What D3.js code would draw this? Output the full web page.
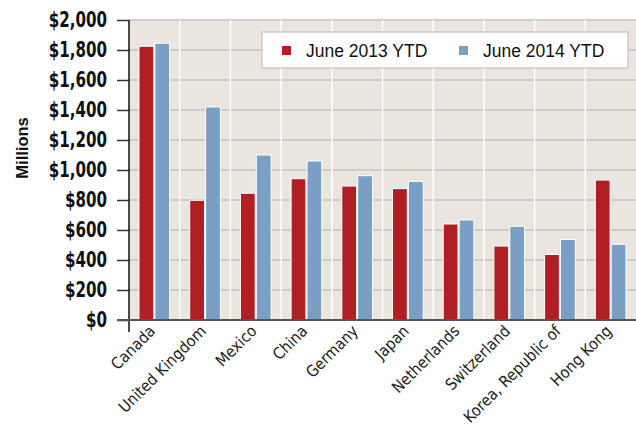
<!DOCTYPE html>
<html><head><meta charset="utf-8">
<script src="https://cdn.jsdelivr.net/npm/d3@7"></script>
<style>body{margin:0;background:#fff}svg{display:block}</style>
</head><body>
<script>
const categories = ["Canada","United Kingdom","Mexico","China","Germany","Japan","Netherlands","Switzerland","Korea, Republic of","Hong Kong"];
const seriesNames = ["June 2013 YTD","June 2014 YTD"];
const values2013 = [1825, 798, 845, 942, 893, 876, 640, 493, 437, 933];
const values2014 = [1845, 1420, 1100, 1060, 962, 924, 667, 625, 537, 505];
const yTicks = [0,200,400,600,800,1000,1200,1400,1600,1800,2000];
const colors = ["#b01f24","#7a9fc4"];

const W=636,H=426;
const m={left:129,right:0,top:20,bottom:106};
const svg=d3.select("body").append("svg").attr("width",W).attr("height",H);
const iw=W-m.left-m.right, ih=H-m.top-m.bottom;
const g=svg.append("g").attr("transform",`translate(${m.left},${m.top})`);

const x0=d3.scaleBand().domain(categories).range([0,iw]).padding(0);
const x1=d3.scaleBand().domain(seriesNames).range([10,x0.bandwidth()-10]).paddingInner(0.07);
const y=d3.scaleLinear().domain([0,2000]).range([ih,0]);

g.append("rect").attr("width",iw).attr("height",ih).attr("fill","#ebe5df");
g.selectAll(".hg").data(yTicks.filter(d=>d>0)).join("line")
 .attr("x1",0).attr("x2",iw).attr("y1",d=>y(d)).attr("y2",d=>y(d))
 .attr("stroke","#c4c2c0").attr("stroke-width",1.5);
g.selectAll(".vg").data(categories.slice(1)).join("line")
 .attr("x1",d=>x0(d)).attr("x2",d=>x0(d)).attr("y1",0).attr("y2",ih)
 .attr("stroke","#fff").attr("stroke-width",1.5);

const data=categories.map((c,i)=>({c,v:[values2013[i],values2014[i]]}));
const grp=g.selectAll(".grp").data(data).join("g").attr("transform",d=>`translate(${x0(d.c)},0)`);
grp.selectAll("rect").data(d=>d.v.map((v,j)=>({s:seriesNames[j],v,j}))).join("rect")
 .attr("x",d=>x1(d.s)).attr("width",x1.bandwidth())
 .attr("y",d=>y(d.v)).attr("height",d=>ih-y(d.v))
 .attr("fill",d=>colors[d.j]).attr("stroke","#fff").attr("stroke-width",1);

// y axis
const sx=0.82;
const ya=g.append("g").call(d3.axisLeft(y).tickValues(yTicks).tickSize(12).tickPadding(10).tickFormat(d=>"$"+d3.format(",")(d)));
ya.select(".domain").remove();
ya.selectAll(".tick line").attr("stroke","#333").attr("stroke-width",1.5);
ya.selectAll("text").attr("font-family","'Liberation Sans Narrow','DejaVu Sans Condensed',sans-serif")
 .attr("font-weight","bold").attr("font-size",20.5).attr("fill","#111")
 .attr("x",-22/sx).attr("transform",`scale(${sx},1)`);
g.append("line").attr("x1",0).attr("x2",0).attr("y1",0).attr("y2",ih+12).attr("stroke","#111").attr("stroke-width",1.5);
g.append("line").attr("x1",-12).attr("x2",iw).attr("y1",ih).attr("y2",ih).attr("stroke","#555").attr("stroke-width",2);

// x labels
g.selectAll(".xl").data(categories).join("text")
 .attr("transform",d=>`translate(${x0(d)+x0.bandwidth()/2+2},${ih+12}) rotate(-45)`)
 .attr("text-anchor","end").attr("font-family","'Liberation Sans Narrow','DejaVu Sans Condensed',sans-serif")
 .attr("font-size",16).attr("fill","#222").text(d=>d);

svg.append("text").attr("transform",`translate(28,148) rotate(-90)`)
 .attr("text-anchor","middle").attr("font-family","'Liberation Sans',Arial,sans-serif")
 .attr("font-weight","bold").attr("font-size",16.5).attr("fill","#111").text("Millions");

// legend
const lg=svg.append("g").attr("transform","translate(262,32)");
lg.append("rect").attr("width",366).attr("height",36).attr("fill","#fff").attr("stroke","#b8b8b8").attr("stroke-width",1);
const li=lg.selectAll(".li").data(seriesNames).join("g").attr("transform",(d,i)=>`translate(${20+i*177},0)`);
li.append("rect").attr("y",14).attr("width",9).attr("height",9).attr("fill",(d,i)=>colors[i]);
li.append("text").attr("x",24).attr("y",24.5).attr("font-family","'Liberation Sans',Arial,sans-serif")
 .attr("font-size",17.5).attr("fill","#111").text(d=>d);
</script>
</body></html>
